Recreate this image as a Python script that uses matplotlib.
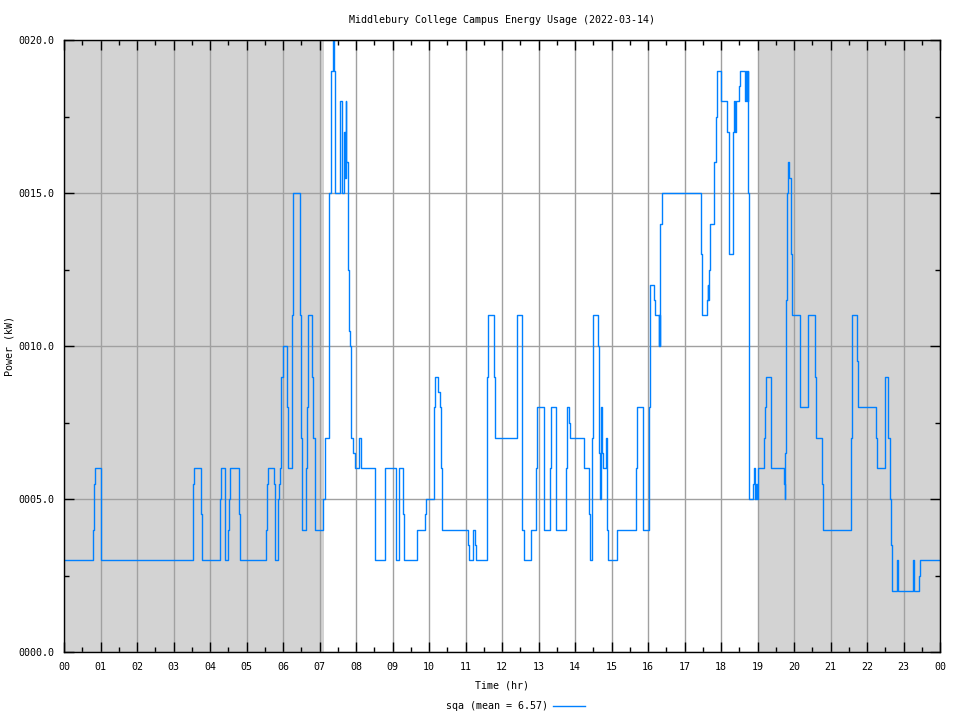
import numpy as np
import matplotlib as mpl
mpl.use('Agg')
import matplotlib.pyplot as plt
from matplotlib.lines import Line2D

# breakpoints of the step trace (hour, kW), value holds until next hour
hours = [0.00, 0.80, 0.82, 0.86, 1.01, 3.54, 3.57, 3.76, 3.79, 4.27, 4.29, 4.42, 4.48, 4.51, 4.55,
         4.80, 4.83, 5.54, 5.57, 5.60, 5.75, 5.78, 5.87, 5.89, 5.91, 5.94, 6.00, 6.11, 6.14, 6.24,
         6.25, 6.27, 6.47, 6.50, 6.51, 6.63, 6.67, 6.69, 6.79, 6.82, 6.87, 6.89, 7.09, 7.14, 7.25,
         7.27, 7.31, 7.36, 7.39, 7.43, 7.55, 7.62, 7.66, 7.69, 7.72, 7.73, 7.77, 7.80, 7.83, 7.85,
         7.92, 7.97, 8.09, 8.15, 8.53, 8.80, 9.10, 9.17, 9.29, 9.32, 9.66, 9.88, 9.91, 10.13, 10.16,
         10.26, 10.29, 10.33, 10.35, 11.07, 11.10, 11.20, 11.27, 11.30, 11.58, 11.60, 11.63, 11.77,
         11.80, 12.40, 12.42, 12.56, 12.59, 12.80, 12.94, 12.97, 13.16, 13.32, 13.34, 13.47, 13.49,
         13.76, 13.79, 13.83, 13.87, 14.25, 14.39, 14.42, 14.47, 14.50, 14.62, 14.65, 14.67, 14.69,
         14.72, 14.74, 14.76, 14.84, 14.88, 14.90, 15.16, 15.68, 15.71, 15.87, 16.02, 16.06, 16.16,
         16.19, 16.30, 16.31, 16.32, 16.33, 16.38, 17.46, 17.48, 17.62, 17.64, 17.65, 17.67, 17.71,
         17.82, 17.85, 17.88, 18.00, 18.17, 18.21, 18.22, 18.32, 18.35, 18.37, 18.40, 18.48, 18.51,
         18.67, 18.69, 18.71, 18.73, 18.74, 18.76, 18.78, 18.87, 18.90, 18.94, 18.96, 18.98, 19.01,
         19.17, 19.20, 19.23, 19.38, 19.72, 19.74, 19.76, 19.78, 19.80, 19.83, 19.85, 19.91, 19.92,
         19.95, 20.16, 20.38, 20.57, 20.60, 20.77, 20.79, 21.55, 21.60, 21.72, 21.75, 22.26, 22.28,
         22.50, 22.58, 22.62, 22.66, 22.69, 22.83, 22.85, 22.86, 23.27, 23.30, 23.43, 23.46, 24.00]
power = [3, 4, 5.5, 6, 3, 5.5, 6, 4.5, 3, 5, 6, 3, 4, 5, 6,
         4.5, 3, 4, 5.5, 6, 5.5, 3, 5, 5.5, 6, 9, 10, 8, 6, 6.5,
         11, 15, 11, 7, 4, 6, 8, 11, 9, 7, 5.5, 4, 5, 7, 9,
         15, 19, 20, 19, 15, 18, 15, 17, 15.5, 18, 16, 12.5, 10.5, 10, 7,
         6.5, 6, 7, 6, 3, 6, 3, 6, 4.5, 3, 4, 4.5, 5, 8, 9,
         8.5, 8, 6, 4, 3.5, 3, 4, 3.5, 3, 5, 9, 11, 9,
         7, 9, 11, 4, 3, 4, 6, 8, 4, 6, 8, 6, 4,
         6, 8, 7.5, 7, 6, 4.5, 3, 7, 11, 10, 8, 6.5, 5,
         8, 6.5, 6, 7, 4, 3, 4, 6, 8, 4, 8, 12, 11.5,
         11, 10, 11, 10, 14, 15, 13, 11, 11.5, 12, 11.5, 12.5, 14,
         16, 17.5, 19, 18, 17, 15, 13, 17, 18, 17, 18, 18.5, 19,
         18, 19, 18, 19, 15, 6.5, 5, 5.5, 6, 5, 5.5, 5, 6,
         7, 8, 9, 6, 5.5, 5, 6.5, 11.5, 15, 16, 15.5, 15, 13,
         11, 8, 11, 9, 7, 5.5, 4, 7, 11, 9.5, 8, 7, 6,
         9, 7, 5, 3.5, 2, 3, 2.5, 2, 3, 2, 2.5, 3, 3]

night_spans = [(0.0, 7.12), (19.0, 24.0)]
hour_labels = ['%02d' % (h % 24) for h in range(25)]
y_labels = ['0000.0', '0005.0', '0010.0', '0015.0', '0020.0']

plt.rcParams['font.family'] = 'DejaVu Sans Mono'
plt.rcParams['font.size'] = 7.2

fig = plt.figure(figsize=(9.6, 7.2), dpi=100)
ax = fig.add_axes([64/960, 1-652/720, 876/960, 612/720])

for a, b in night_spans:
    ax.axvspan(a, b, color='#d3d3d3', lw=0, zorder=0.2)

ax.step(hours, power, where='post', color='#0080ff', lw=1.0, zorder=2)

ax.set_xlim(0, 24)
ax.set_ylim(0, 20)
ax.set_xticks(range(25))
ax.set_xticklabels(hour_labels)
ax.set_xticks(np.arange(0.5, 24, 1), minor=True)
ax.set_yticks([0, 5, 10, 15, 20])
ax.set_yticklabels(y_labels)
ax.set_yticks([2.5, 7.5, 12.5, 17.5], minor=True)
ax.tick_params(which='both', direction='in', top=True, right=True, width=1, color='black')
ax.tick_params(which='major', length=7, pad=7)
ax.tick_params(which='minor', length=3.5)
ax.set_axisbelow(True)
ax.grid(True, which='major', color='#a0a0a0', lw=1, zorder=0.5)
for s in ax.spines.values():
    s.set_linewidth(1)
    s.set_color('black')

fig.text(502/960, 1-20/720, 'Middlebury College Campus Energy Usage (2022-03-14)', ha='center', va='center')
fig.text(10/960, 1-346/720, 'Power (kW)', rotation=90, ha='center', va='center')
fig.text(502/960, 1-686/720, 'Time (hr)', ha='center', va='center')

# legend below the x label
fig.text(548/960, 1-706/720, 'sqa (mean = 6.57)', ha='right', va='center')
fig.add_artist(Line2D([553/960, 585/960], [1-706/720, 1-706/720], color='#0080ff', lw=1.0))

plt.savefig('out.png', dpi=100)
